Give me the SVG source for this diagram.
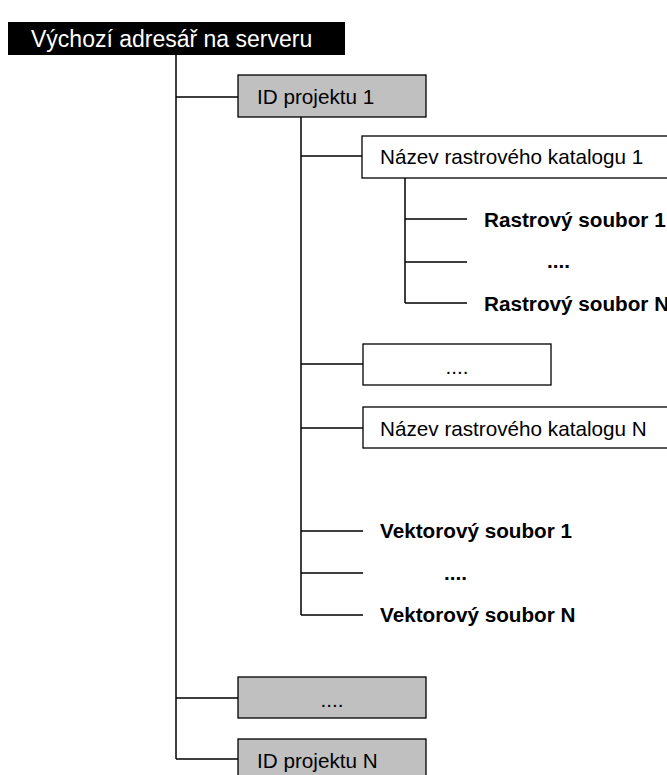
<svg xmlns="http://www.w3.org/2000/svg" width="667" height="775" viewBox="0 0 667 775">
<style>
.t{font-family:"Liberation Sans",Arial,sans-serif;font-size:20.7px;fill:#000}
.b{font-weight:bold}
.c{text-anchor:middle}
.box{stroke:#000;stroke-width:1.3}
.g{fill:#c0c0c0}
.w{fill:#fff}
.ln{stroke:#000;stroke-width:1.5;fill:none}
</style>
<rect width="667" height="775" fill="#fff"/>
<g id="connectors">
<path class="ln" d="M176 55V759M176 97H238M176 698H238M176 759H238"/>
<path class="ln" d="M301 117V615M301 156H362M301 364H363M301 428H363M301 531H363M301 573H363M301 615H363"/>
<path class="ln" d="M405 178V303M405 219H467M405 262H467M405 303H467"/>
</g>
<g id="root">
<rect x="8" y="22" width="337" height="33" fill="#000"/>
<text class="t" x="31" y="47" style="font-size:23px;fill:#fff">Výchozí adresář na serveru</text>
</g>
<g id="proj1">
<rect class="box g" x="238" y="75" width="188" height="42"/>
<text class="t" x="257" y="104">ID projektu 1</text>
</g>
<g id="kat1">
<rect class="box w" x="362" y="136" width="320" height="42"/>
<text class="t" x="380" y="164">Název rastrového katalogu 1</text>
</g>
<g id="ras1"><text class="t b" x="484" y="227">Rastrový soubor 1</text></g>
<g id="rasdots"><text class="t b" x="547" y="268">....</text></g>
<g id="rasN"><text class="t b" x="484" y="311">Rastrový soubor N</text></g>
<g id="katdots">
<rect class="box w" x="363" y="344" width="188" height="41"/>
<text class="t c" x="457" y="374">....</text>
</g>
<g id="katN">
<rect class="box w" x="363" y="407" width="320" height="41"/>
<text class="t" x="380" y="436">Název rastrového katalogu N</text>
</g>
<g id="vek1"><text class="t b" x="380" y="538">Vektorový soubor 1</text></g>
<g id="vekdots"><text class="t b" x="444" y="580">....</text></g>
<g id="vekN"><text class="t b" x="380" y="622">Vektorový soubor N</text></g>
<g id="projdots">
<rect class="box g" x="238" y="677" width="188" height="41"/>
<text class="t c" x="332" y="707">....</text>
</g>
<g id="projN">
<rect class="box g" x="238" y="739" width="188" height="45"/>
<text class="t" x="257" y="768">ID projektu N</text>
</g>
</svg>
